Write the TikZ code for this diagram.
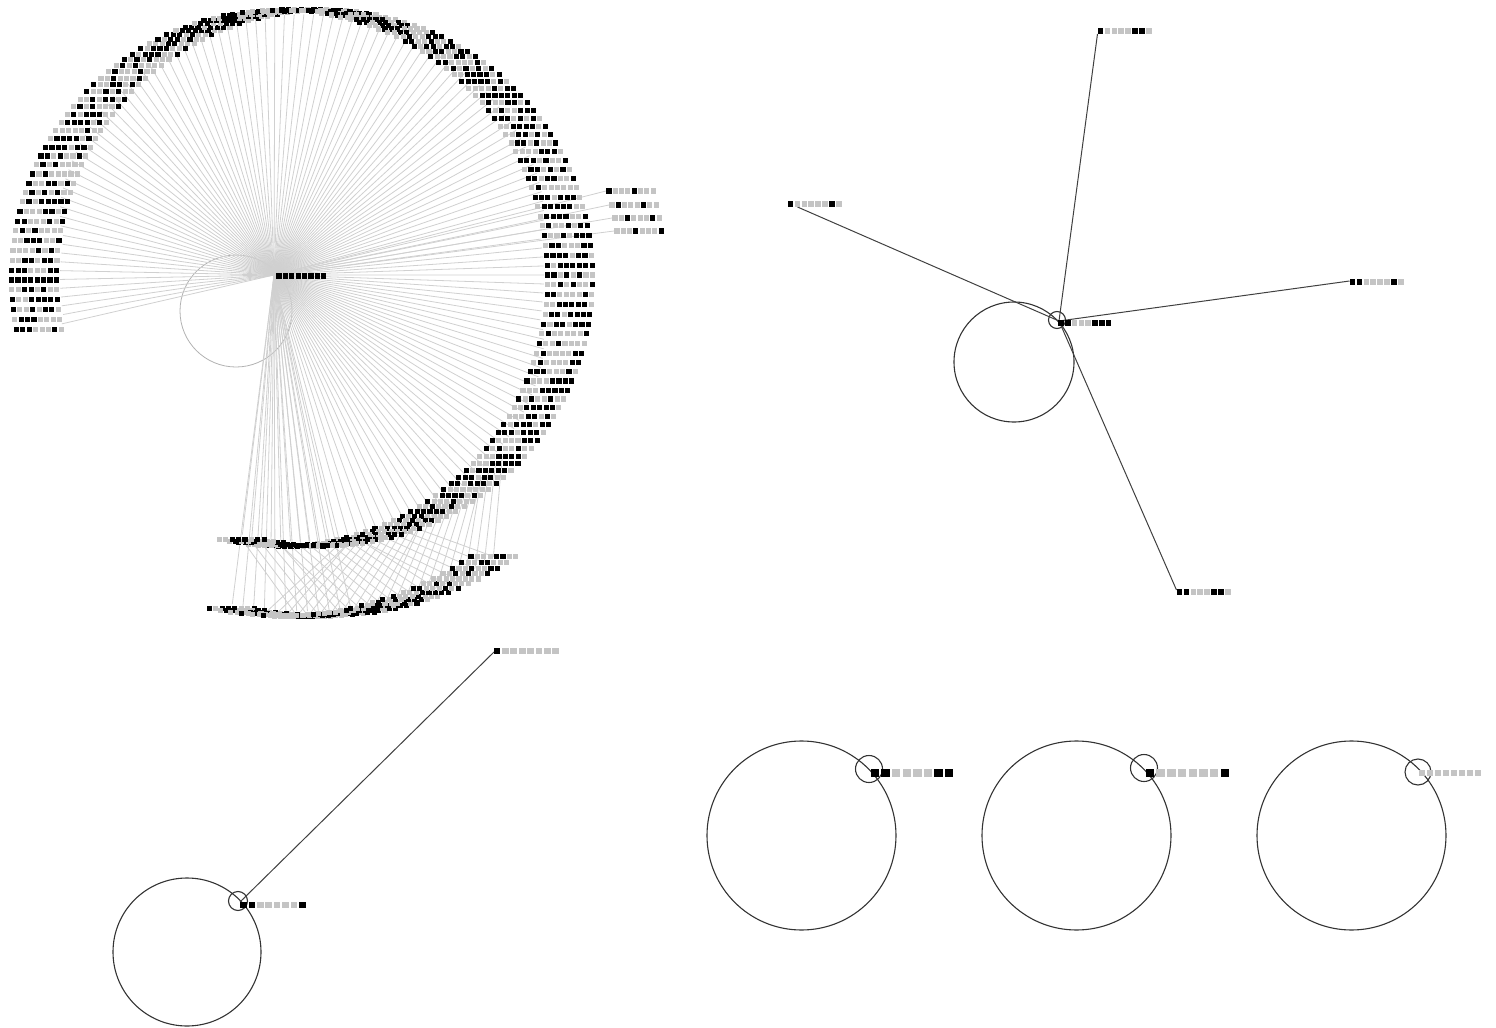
\documentclass[tikz,border=0pt]{standalone}
\usepackage{tikz}
\usetikzlibrary{calc}

\definecolor{bitgray}{RGB}{196,196,196}
\definecolor{fangray}{RGB}{208,208,208}

% row of 8 cells: anchor (first cell), pitch, bits
\newcommand{\bitrow}[3]{%
  \foreach \b [count=\k from 0] in {#3}
    \fill[bit\b] ($(#1)+(\k*#2,0)$) +(-0.4*#2,-0.4*#2) rectangle +(0.4*#2,0.4*#2);
}
% same with random bits
\newcommand{\randrow}[2]{%
  \foreach \k in {0,...,7}{
    \pgfmathrandominteger{\b}{0}{1}
    \fill[bit\b] ($(#1)+(\k*#2,0)$) +(-0.4*#2,-0.4*#2) rectangle +(0.4*#2,0.4*#2);
  }
}

\begin{document}
\begin{tikzpicture}[x=0.5pt, y=-0.5pt,
  bit0/.style={fill=bitgray}, bit1/.style={fill=black},
  fan/.style={draw=fangray, line width=0.4pt},
  link/.style={draw=black!75, line width=0.5pt},
  ring/.style={draw=black!80, line width=0.55pt}]

\useasboundingbox (0,0) rectangle (1496,1028);
\pgfmathsetseed{11}

% ============================
% Big fan (top left)
% ============================
\coordinate (hub) at (274,275);
\coordinate (c0) at (279,276);
\draw[draw=black!30, line width=0.4pt] (236,311) circle (56);

% ring of strings
\foreach \i in {0,...,139}{
  \pgfmathsetmacro\t{191-\i*2.115}
  \pgfmathsetmacro\dd{0.5*min(26/max(abs(cos(\t)),0.02),4.5/max(abs(sin(\t)),0.02))}
  \coordinate (m\i) at ({302+268*cos(\t)},{278-268*sin(\t)});
  \coordinate (a\i) at ($(m\i)+(-22.4,0)$);
  \coordinate (e\i) at ($(m\i)!\dd pt!(hub)$);
  \draw[fan] (hub) -- (e\i);
}

% outer arc at the bottom
\foreach \j in {0,...,25}{
  \pgfmathsetmacro\t{-102+\j*1.86}
  \coordinate (n\j) at ({302+338*cos(\t)},{278-338*sin(\t)});
  \coordinate (g\j) at ($(n\j)+(-22.4,0)$);
}
\foreach \j in {0,...,11}{
  \coordinate (f\j) at ($(n\j)!2.4pt!(hub)$);
  \draw[fan] (hub) -- (f\j);
}
\foreach \j in {3,...,25}{
  \pgfmathtruncatemacro\ka{round((191-(-102+\j*1.86+14))/2.115)}
  \pgfmathtruncatemacro\kb{round((191-(-102+\j*1.86-12))/2.115)}
  \draw[fan] (n\j) -- (m\ka);
  \ifnum\kb<140 \draw[fan] (n\j) -- (m\kb); \fi
}

% strings off the ring
\coordinate (x1) at (609,191);
\coordinate (x2) at (612,205);
\coordinate (x3) at (615,218);
\coordinate (x4) at (617,231);
\foreach \pt in {x1,x2,x3,x4}{
  \draw[fan] (hub) -- ($(\pt)+(-3,0)$);
}

\foreach \i in {0,...,139}{
  \randrow{a\i}{6.4}
}
\foreach \j in {0,...,25}{
  \randrow{g\j}{6.4}
}
\bitrow{c0}{6.4}{1,1,1,1,1,1,1,1}
\bitrow{x1}{6.3}{1,0,0,0,1,0,0,0}
\bitrow{x2}{6.3}{0,1,0,0,0,1,0,0}
\bitrow{x3}{6.3}{0,0,1,0,0,0,1,0}
\bitrow{x4}{6.3}{0,0,0,1,0,0,0,1}

% ============================
% Star (top right)
% ============================
\coordinate (hB) at (1059,321);
\coordinate (sB) at (1061,323);
\coordinate (ul) at (790.5,204);
\coordinate (tp) at (1100.5,31);
\coordinate (rt) at (1352.5,282);
\coordinate (bt) at (1179.5,592);

\draw[ring] (1014,362) circle (60);
\draw[ring] (1057,320) circle (8.5);

\draw[link] (hB) -- ($(ul)+(7,3)$);
\draw[link] (hB) -- ($(tp)+(-3,3)$);
\draw[link] (hB) -- ($(rt)+(-3,-1)$);
\draw[link] (hB) -- ($(bt)+(-3,-2)$);

\bitrow{sB}{6.8}{1,1,0,0,0,1,1,1}
\bitrow{ul}{6.9}{1,0,0,0,0,0,1,0}
\bitrow{tp}{6.9}{1,0,0,0,0,1,1,0}
\bitrow{rt}{6.9}{1,1,0,0,0,0,1,0}
\bitrow{bt}{6.9}{1,1,0,0,0,1,1,0}

% ============================
% Single link (bottom left)
% ============================
\coordinate (hC) at (240,902);
\coordinate (sC) at (243.5,905);
\coordinate (uC) at (497,651);

\draw[ring] (187,952) circle (74);
\draw[ring] (238,901) circle (9.5);
\draw[link] (hC) -- ($(uC)+(-3,1)$);

\bitrow{sC}{8.4}{1,1,0,0,0,0,0,1}
\bitrow{uC}{8.4}{1,0,0,0,0,0,0,0}

% ============================
% Three loops (bottom right)
% ============================
\draw[ring] (801.5,835.5) circle (94.5);
\draw[ring] (869,769) circle (13.5);
\coordinate (d1) at (875,773);
\bitrow{d1}{10.6}{1,1,0,0,0,0,1,1}

\draw[ring] (1076.5,835.5) circle (94.5);
\draw[ring] (1144,768) circle (13.5);
\coordinate (d2) at (1150,773);
\bitrow{d2}{10.7}{1,0,0,0,0,0,0,1}

\draw[ring] (1351.5,835.5) circle (94.5);
\draw[ring] (1418,772) circle (13);
\coordinate (d3) at (1422,773);
\bitrow{d3}{8}{0,0,0,0,0,0,0,0}

\end{tikzpicture}
\end{document}
